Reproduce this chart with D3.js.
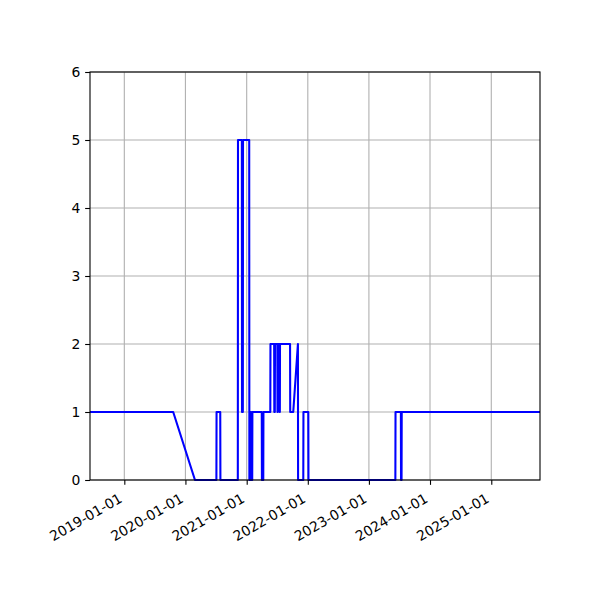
<!DOCTYPE html>
<html>
<head>
<meta charset="utf-8">
<script src="https://cdn.jsdelivr.net/npm/d3@7"></script>
<style>
  html, body { margin: 0; padding: 0; background: #fff; }
  text { font-family: "DejaVu Sans", sans-serif; }
</style>
</head>
<body>
<div id="chart"></div>
<script>
// ---- data ----
const dates = [
  "2018-06-10","2019-10-20","2020-02-27","2020-07-04","2020-07-05","2020-07-27","2020-07-28",
  "2020-11-09","2020-11-10","2020-12-03","2020-12-04","2020-12-09","2020-12-10",
  "2021-01-16","2021-01-17","2021-01-22","2021-01-23","2021-01-28","2021-01-29","2021-02-03","2021-02-04",
  "2021-04-01","2021-04-02","2021-04-10","2021-04-11",
  "2021-05-22","2021-05-23","2021-06-14","2021-06-15","2021-06-18","2021-06-19",
  "2021-07-03","2021-07-04","2021-07-05","2021-07-06",
  "2021-07-16","2021-07-17","2021-07-18","2021-07-19",
  "2021-09-17","2021-09-18","2021-10-06","2021-11-03","2021-11-04",
  "2021-12-05","2021-12-06","2022-01-04","2022-01-05",
  "2023-06-08","2023-06-09","2023-07-11","2023-07-12","2023-07-15","2023-07-16",
  "2025-10-19"
];
const values = [
  1,1,0,0,1,1,0,
  0,5,5,1,1,5,
  5,0,0,1,1,0,0,1,
  1,0,0,1,
  1,2,2,1,1,2,
  2,1,1,2,
  2,1,1,2,
  2,1,1,2,0,
  0,1,1,0,
  0,1,1,0,0,1,
  1
];
const xDomain = ["2018-06-10", "2025-10-19"];
const xTicks = ["2019-01-01","2020-01-01","2021-01-01","2022-01-01","2023-01-01","2024-01-01","2025-01-01"];
const yTicks = [0,1,2,3,4,5,6];

// ---- layout ----
const W = 600, H = 600;
const m = { left: 90, right: 60, top: 72, bottom: 120 };
const iw = W - m.left - m.right, ih = H - m.top - m.bottom;
const parse = d3.utcParse("%Y-%m-%d");
const fmt = d3.utcFormat("%Y-%m-%d");

const svg = d3.select("#chart").append("svg")
  .attr("width", W).attr("height", H)
  .style("background", "#fff");

const x = d3.scaleUtc().domain(xDomain.map(parse)).range([m.left, m.left + iw]);
const y = d3.scaleLinear().domain([0, 6]).range([m.top + ih, m.top]);

const data = dates.map((d, i) => ({ date: parse(d), value: values[i] }));

// grid
const g = svg.append("g");
g.selectAll(".gx").data(xTicks.map(parse)).enter().append("line")
  .attr("x1", d => x(d)).attr("x2", d => x(d))
  .attr("y1", m.top).attr("y2", m.top + ih)
  .attr("stroke", "#b0b0b0").attr("stroke-width", 1.1);
g.selectAll(".gy").data(yTicks).enter().append("line")
  .attr("x1", m.left).attr("x2", m.left + iw)
  .attr("y1", d => y(d)).attr("y2", d => y(d))
  .attr("stroke", "#b0b0b0").attr("stroke-width", 1.1);

// line
svg.append("defs").append("clipPath").attr("id", "clip")
  .append("rect").attr("x", m.left).attr("y", m.top - 2).attr("width", iw).attr("height", ih + 4);
const line = d3.line().x(d => x(d.date)).y(d => y(d.value));
svg.append("path").datum(data)
  .attr("clip-path", "url(#clip)")
  .attr("fill", "none").attr("stroke", "#0000ff").attr("stroke-width", 2.08)
  .attr("stroke-linejoin", "round").attr("stroke-linecap", "butt")
  .attr("d", line);

// axes
const xAxis = d3.axisBottom(x).tickValues(xTicks.map(parse)).tickFormat(fmt)
  .tickSizeInner(4.86).tickSizeOuter(0).tickPadding(4.86);
const gx = svg.append("g").attr("transform", `translate(0,${m.top + ih})`).call(xAxis);
gx.select(".domain").remove();
gx.selectAll(".tick line").attr("stroke", "#000").attr("stroke-width", 1.1);
gx.selectAll(".tick text")
  .attr("font-size", "13.9px").attr("fill", "#000")
  .attr("text-anchor", "end")
  .attr("y", 0).attr("dy", "0.35em")
  .attr("transform", "translate(-4,17) rotate(-30)");

const yAxis = d3.axisLeft(y).tickValues(yTicks).tickFormat(d3.format("d"))
  .tickSizeInner(4.86).tickSizeOuter(0).tickPadding(4.86);
const gy = svg.append("g").attr("transform", `translate(${m.left},0)`).call(yAxis);
gy.select(".domain").remove();
gy.selectAll(".tick line").attr("stroke", "#000").attr("stroke-width", 1.1);
gy.selectAll(".tick text").attr("font-size", "13.9px").attr("fill", "#000").attr("font-family", "DejaVu Sans");

// spines
svg.append("rect").attr("x", m.left).attr("y", m.top).attr("width", iw).attr("height", ih)
  .attr("fill", "none").attr("stroke", "#000").attr("stroke-width", 1.1);
</script>
</body>
</html>
